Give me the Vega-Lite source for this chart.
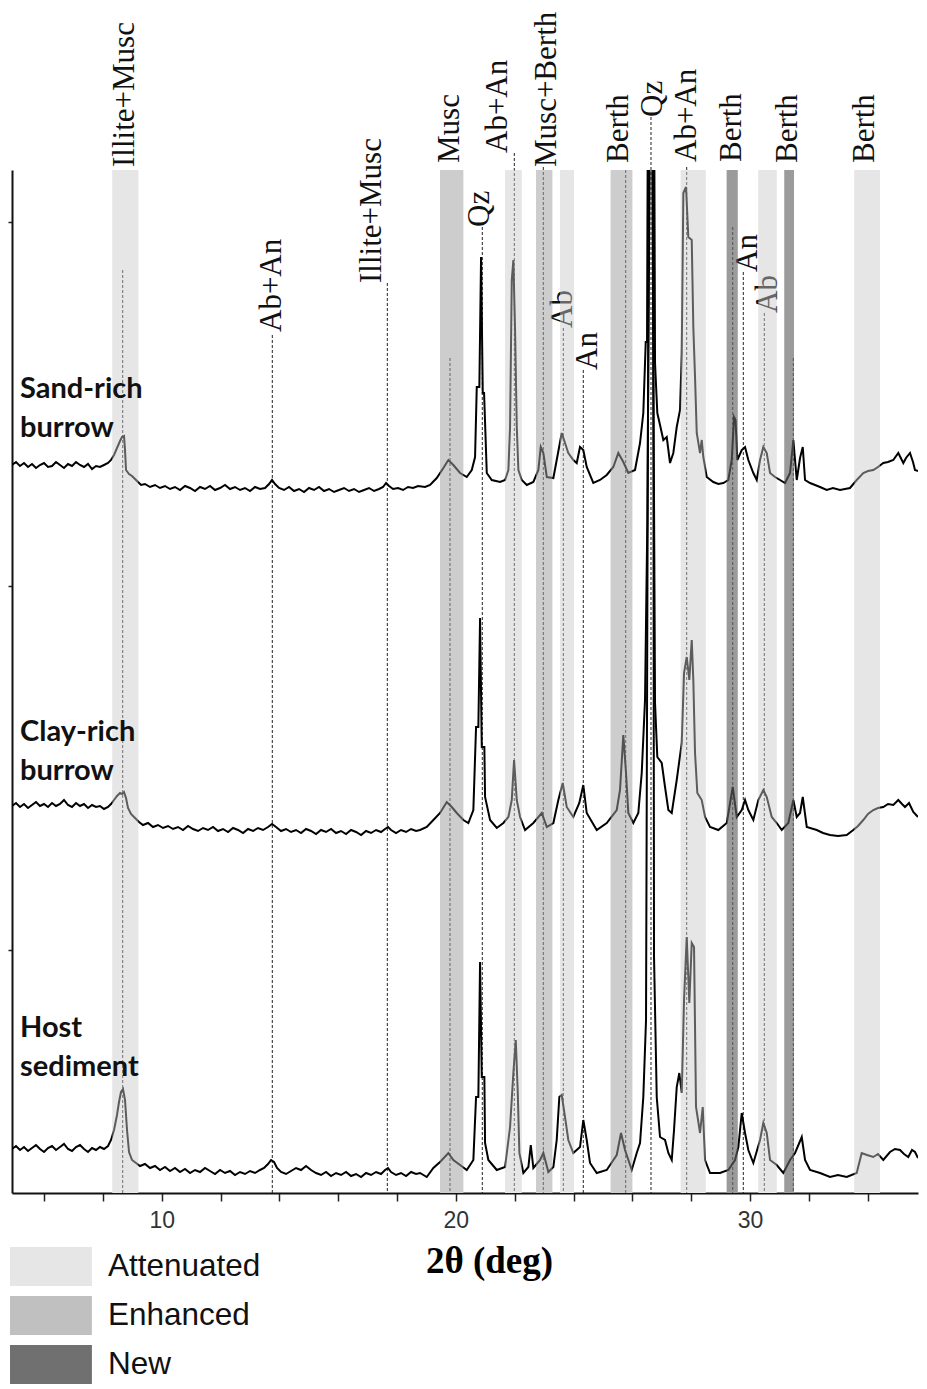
{
"$schema": "https://vega.github.io/schema/vega-lite/v6.json",
"width": 906, "height": 1023,
"autosize": {"type": "none"},
"padding": {"left": 12, "top": 170, "right": 9, "bottom": 196},
"background": "white",
"config": {"view": {"stroke": null}, "font": "Liberation Sans"},
"datasets": {
"bands": [
{"x":8.321,"x2":9.204,"type":"Attenuated"},
{"x":21.671,"x2":22.239,"type":"Attenuated"},
{"x":23.541,"x2":24.017,"type":"Attenuated"},
{"x":27.644,"x2":28.494,"type":"Attenuated"},
{"x":30.282,"x2":30.908,"type":"Attenuated"},
{"x":33.546,"x2":34.420,"type":"Attenuated"},
{"x":19.461,"x2":20.253,"type":"Enhanced"},
{"x":22.725,"x2":23.279,"type":"Enhanced"},
{"x":25.264,"x2":25.999,"type":"Enhanced"},
{"x":29.208,"x2":29.582,"type":"New"},
{"x":31.166,"x2":31.496,"type":"New"}
],
"leaders": [
{"x":8.674,"y":923},{"x":13.760,"y":858},{"x":17.670,"y":910},{"x":19.801,"y":835},
{"x":20.899,"y":966},{"x":21.987,"y":1040},{"x":22.973,"y":1026},{"x":23.653,"y":865},
{"x":24.333,"y":823},{"x":25.774,"y":1023},{"x":26.634,"y":1076},{"x":27.848,"y":1026},
{"x":29.412,"y":966},{"x":29.772,"y":921},{"x":30.486,"y":880},{"x":31.472,"y":835}
],
"labels": [
{"x":8.753,"y":1026,"t":"Illite+Musc"},
{"x":13.740,"y":861,"t":"Ab+An"},
{"x":17.139,"y":910,"t":"Illite+Musc"},
{"x":19.801,"y":1030,"t":"Musc"},
{"x":20.823,"y":966,"t":"Qz"},
{"x":21.443,"y":1040,"t":"Ab+An"},
{"x":23.091,"y":1026,"t":"Musc+Berth"},
{"x":23.626,"y":865,"t":"Ab"},
{"x":24.503,"y":823,"t":"An"},
{"x":25.557,"y":1030,"t":"Berth"},
{"x":26.712,"y":1076,"t":"Qz"},
{"x":27.848,"y":1031,"t":"Ab+An"},
{"x":29.379,"y":1031,"t":"Berth"},
{"x":29.943,"y":921,"t":"An"},
{"x":30.623,"y":880,"t":"Ab"},
{"x":31.303,"y":1030,"t":"Berth"},
{"x":33.910,"y":1030,"t":"Berth"}
],
"samples": [
{"x":5.183,"y":795,"t":"Sand-rich\nburrow"},
{"x":5.183,"y":452,"t":"Clay-rich\nburrow"},
{"x":5.183,"y":156,"t":"Host\nsediment"}
],
"traces": [
{"s":"sand","x":4.911,"y":728},{"s":"sand","x":5.047,"y":731},{"s":"sand","x":5.183,"y":727},{"s":"sand","x":5.319,"y":730},{"s":"sand","x":5.455,"y":726},{"s":"sand","x":5.591,"y":729},{"s":"sand","x":5.727,"y":725},{"s":"sand","x":5.863,"y":728},{"s":"sand","x":5.999,"y":730},{"s":"sand","x":6.135,"y":726},{"s":"sand","x":6.271,"y":727},{"s":"sand","x":6.407,"y":731},{"s":"sand","x":6.543,"y":728},{"s":"sand","x":6.679,"y":725},{"s":"sand","x":6.815,"y":729},{"s":"sand","x":6.951,"y":727},{"s":"sand","x":7.087,"y":731},{"s":"sand","x":7.223,"y":728},{"s":"sand","x":7.359,"y":726},{"s":"sand","x":7.495,"y":729},{"s":"sand","x":7.631,"y":724},{"s":"sand","x":7.767,"y":727},{"s":"sand","x":7.903,"y":726},{"s":"sand","x":8.039,"y":728},{"s":"sand","x":8.175,"y":730},{"s":"sand","x":8.277,"y":733},{"s":"sand","x":8.379,"y":738},{"s":"sand","x":8.481,"y":745},{"s":"sand","x":8.583,"y":752},{"s":"sand","x":8.651,"y":756},{"s":"sand","x":8.719,"y":757},{"s":"sand","x":8.753,"y":743},{"s":"sand","x":8.787,"y":723},{"s":"sand","x":8.889,"y":719},{"s":"sand","x":8.991,"y":717},{"s":"sand","x":9.093,"y":714},{"s":"sand","x":9.195,"y":711},{"s":"sand","x":9.297,"y":708},{"s":"sand","x":9.433,"y":709},{"s":"sand","x":9.603,"y":706},{"s":"sand","x":9.773,"y":708},{"s":"sand","x":9.943,"y":705},{"s":"sand","x":10.113,"y":707},{"s":"sand","x":10.283,"y":704},{"s":"sand","x":10.453,"y":706},{"s":"sand","x":10.623,"y":703},{"s":"sand","x":10.793,"y":707},{"s":"sand","x":10.963,"y":705},{"s":"sand","x":11.133,"y":702},{"s":"sand","x":11.303,"y":706},{"s":"sand","x":11.473,"y":704},{"s":"sand","x":11.643,"y":707},{"s":"sand","x":11.813,"y":703},{"s":"sand","x":11.983,"y":705},{"s":"sand","x":12.153,"y":708},{"s":"sand","x":12.323,"y":704},{"s":"sand","x":12.493,"y":706},{"s":"sand","x":12.663,"y":703},{"s":"sand","x":12.833,"y":705},{"s":"sand","x":13.003,"y":702},{"s":"sand","x":13.173,"y":706},{"s":"sand","x":13.343,"y":704},{"s":"sand","x":13.513,"y":705},{"s":"sand","x":13.649,"y":709},{"s":"sand","x":13.751,"y":713},{"s":"sand","x":13.853,"y":709},{"s":"sand","x":13.989,"y":705},{"s":"sand","x":14.159,"y":703},{"s":"sand","x":14.329,"y":706},{"s":"sand","x":14.499,"y":702},{"s":"sand","x":14.669,"y":704},{"s":"sand","x":14.839,"y":701},{"s":"sand","x":15.009,"y":705},{"s":"sand","x":15.179,"y":703},{"s":"sand","x":15.349,"y":706},{"s":"sand","x":15.519,"y":702},{"s":"sand","x":15.689,"y":704},{"s":"sand","x":15.859,"y":701},{"s":"sand","x":16.029,"y":703},{"s":"sand","x":16.199,"y":705},{"s":"sand","x":16.369,"y":702},{"s":"sand","x":16.539,"y":704},{"s":"sand","x":16.709,"y":701},{"s":"sand","x":16.879,"y":703},{"s":"sand","x":17.049,"y":705},{"s":"sand","x":17.219,"y":702},{"s":"sand","x":17.389,"y":704},{"s":"sand","x":17.525,"y":706},{"s":"sand","x":17.627,"y":710},{"s":"sand","x":17.729,"y":707},{"s":"sand","x":17.865,"y":704},{"s":"sand","x":18.035,"y":705},{"s":"sand","x":18.205,"y":703},{"s":"sand","x":18.375,"y":706},{"s":"sand","x":18.545,"y":705},{"s":"sand","x":18.715,"y":707},{"s":"sand","x":18.953,"y":706},{"s":"sand","x":19.123,"y":708},{"s":"sand","x":19.351,"y":715},{"s":"sand","x":19.575,"y":725},{"s":"sand","x":19.745,"y":733},{"s":"sand","x":19.915,"y":728},{"s":"sand","x":20.143,"y":720},{"s":"sand","x":20.371,"y":716},{"s":"sand","x":20.541,"y":723},{"s":"sand","x":20.653,"y":736},{"s":"sand","x":20.711,"y":806},{"s":"sand","x":20.799,"y":806},{"s":"sand","x":20.857,"y":936},{"s":"sand","x":20.915,"y":800},{"s":"sand","x":20.959,"y":800},{"s":"sand","x":21.051,"y":720},{"s":"sand","x":21.221,"y":713},{"s":"sand","x":21.503,"y":711},{"s":"sand","x":21.673,"y":713},{"s":"sand","x":21.786,"y":723},{"s":"sand","x":21.843,"y":766},{"s":"sand","x":21.901,"y":913},{"s":"sand","x":21.955,"y":933},{"s":"sand","x":22.013,"y":863},{"s":"sand","x":22.071,"y":766},{"s":"sand","x":22.126,"y":723},{"s":"sand","x":22.241,"y":713},{"s":"sand","x":22.411,"y":708},{"s":"sand","x":22.635,"y":711},{"s":"sand","x":22.805,"y":723},{"s":"sand","x":22.887,"y":746},{"s":"sand","x":22.975,"y":740},{"s":"sand","x":23.091,"y":716},{"s":"sand","x":23.315,"y":715},{"s":"sand","x":23.429,"y":733},{"s":"sand","x":23.599,"y":760},{"s":"sand","x":23.711,"y":750},{"s":"sand","x":23.823,"y":740},{"s":"sand","x":23.993,"y":733},{"s":"sand","x":24.109,"y":730},{"s":"sand","x":24.221,"y":746},{"s":"sand","x":24.333,"y":743},{"s":"sand","x":24.449,"y":726},{"s":"sand","x":24.673,"y":710},{"s":"sand","x":24.901,"y":713},{"s":"sand","x":25.129,"y":718},{"s":"sand","x":25.353,"y":726},{"s":"sand","x":25.523,"y":740},{"s":"sand","x":25.693,"y":731},{"s":"sand","x":25.863,"y":720},{"s":"sand","x":26.091,"y":723},{"s":"sand","x":26.261,"y":750},{"s":"sand","x":26.373,"y":780},{"s":"sand","x":26.455,"y":851},{"s":"sand","x":26.499,"y":851},{"s":"sand","x":26.533,"y":1133},{"s":"sand","x":26.737,"y":1133},{"s":"sand","x":26.771,"y":830},{"s":"sand","x":26.849,"y":780},{"s":"sand","x":26.941,"y":768},{"s":"sand","x":27.054,"y":753},{"s":"sand","x":27.169,"y":756},{"s":"sand","x":27.281,"y":730},{"s":"sand","x":27.393,"y":740},{"s":"sand","x":27.509,"y":766},{"s":"sand","x":27.621,"y":783},{"s":"sand","x":27.679,"y":840},{"s":"sand","x":27.734,"y":1000},{"s":"sand","x":27.825,"y":1006},{"s":"sand","x":27.903,"y":956},{"s":"sand","x":28.019,"y":953},{"s":"sand","x":28.073,"y":866},{"s":"sand","x":28.131,"y":816},{"s":"sand","x":28.189,"y":760},{"s":"sand","x":28.301,"y":740},{"s":"sand","x":28.359,"y":753},{"s":"sand","x":28.413,"y":736},{"s":"sand","x":28.529,"y":716},{"s":"sand","x":28.753,"y":711},{"s":"sand","x":28.923,"y":709},{"s":"sand","x":29.093,"y":710},{"s":"sand","x":29.263,"y":713},{"s":"sand","x":29.379,"y":733},{"s":"sand","x":29.457,"y":776},{"s":"sand","x":29.508,"y":773},{"s":"sand","x":29.569,"y":733},{"s":"sand","x":29.719,"y":743},{"s":"sand","x":29.831,"y":746},{"s":"sand","x":29.943,"y":733},{"s":"sand","x":30.113,"y":720},{"s":"sand","x":30.229,"y":713},{"s":"sand","x":30.341,"y":733},{"s":"sand","x":30.453,"y":746},{"s":"sand","x":30.569,"y":740},{"s":"sand","x":30.681,"y":720},{"s":"sand","x":30.851,"y":716},{"s":"sand","x":31.021,"y":713},{"s":"sand","x":31.191,"y":710},{"s":"sand","x":31.361,"y":720},{"s":"sand","x":31.473,"y":753},{"s":"sand","x":31.589,"y":713},{"s":"sand","x":31.701,"y":735},{"s":"sand","x":31.793,"y":746},{"s":"sand","x":31.871,"y":713},{"s":"sand","x":32.041,"y":710},{"s":"sand","x":32.211,"y":708},{"s":"sand","x":32.381,"y":706},{"s":"sand","x":32.607,"y":703},{"s":"sand","x":32.821,"y":705},{"s":"sand","x":33.059,"y":703},{"s":"sand","x":33.229,"y":704},{"s":"sand","x":33.399,"y":705},{"s":"sand","x":33.627,"y":713},{"s":"sand","x":33.851,"y":720},{"s":"sand","x":34.011,"y":722},{"s":"sand","x":34.191,"y":723},{"s":"sand","x":34.351,"y":726},{"s":"sand","x":34.531,"y":730},{"s":"sand","x":34.691,"y":731},{"s":"sand","x":34.871,"y":733},{"s":"sand","x":35.041,"y":740},{"s":"sand","x":35.213,"y":730},{"s":"sand","x":35.303,"y":735},{"s":"sand","x":35.439,"y":740},{"s":"sand","x":35.541,"y":731},{"s":"sand","x":35.609,"y":723},{"s":"sand","x":35.711,"y":722},
{"s":"clay","x":4.911,"y":387},{"s":"clay","x":5.047,"y":390},{"s":"clay","x":5.183,"y":386},{"s":"clay","x":5.319,"y":389},{"s":"clay","x":5.455,"y":385},{"s":"clay","x":5.591,"y":388},{"s":"clay","x":5.727,"y":391},{"s":"clay","x":5.863,"y":387},{"s":"clay","x":5.999,"y":389},{"s":"clay","x":6.135,"y":386},{"s":"clay","x":6.271,"y":390},{"s":"clay","x":6.407,"y":387},{"s":"clay","x":6.543,"y":389},{"s":"clay","x":6.679,"y":393},{"s":"clay","x":6.815,"y":388},{"s":"clay","x":6.951,"y":386},{"s":"clay","x":7.087,"y":390},{"s":"clay","x":7.223,"y":387},{"s":"clay","x":7.359,"y":389},{"s":"clay","x":7.495,"y":385},{"s":"clay","x":7.631,"y":388},{"s":"clay","x":7.767,"y":386},{"s":"clay","x":7.903,"y":387},{"s":"clay","x":8.039,"y":384},{"s":"clay","x":8.175,"y":386},{"s":"clay","x":8.277,"y":389},{"s":"clay","x":8.379,"y":393},{"s":"clay","x":8.481,"y":397},{"s":"clay","x":8.583,"y":400},{"s":"clay","x":8.651,"y":399},{"s":"clay","x":8.719,"y":401},{"s":"clay","x":8.787,"y":395},{"s":"clay","x":8.855,"y":385},{"s":"clay","x":8.957,"y":379},{"s":"clay","x":9.093,"y":375},{"s":"clay","x":9.229,"y":371},{"s":"clay","x":9.365,"y":368},{"s":"clay","x":9.535,"y":370},{"s":"clay","x":9.705,"y":366},{"s":"clay","x":9.875,"y":368},{"s":"clay","x":10.045,"y":365},{"s":"clay","x":10.215,"y":367},{"s":"clay","x":10.385,"y":364},{"s":"clay","x":10.555,"y":366},{"s":"clay","x":10.725,"y":363},{"s":"clay","x":10.895,"y":367},{"s":"clay","x":11.065,"y":364},{"s":"clay","x":11.235,"y":362},{"s":"clay","x":11.405,"y":365},{"s":"clay","x":11.575,"y":363},{"s":"clay","x":11.745,"y":366},{"s":"clay","x":11.915,"y":362},{"s":"clay","x":12.085,"y":364},{"s":"clay","x":12.255,"y":361},{"s":"clay","x":12.425,"y":365},{"s":"clay","x":12.595,"y":363},{"s":"clay","x":12.765,"y":360},{"s":"clay","x":12.935,"y":364},{"s":"clay","x":13.105,"y":362},{"s":"clay","x":13.275,"y":365},{"s":"clay","x":13.445,"y":363},{"s":"clay","x":13.615,"y":366},{"s":"clay","x":13.751,"y":369},{"s":"clay","x":13.887,"y":366},{"s":"clay","x":14.057,"y":362},{"s":"clay","x":14.227,"y":364},{"s":"clay","x":14.397,"y":361},{"s":"clay","x":14.567,"y":363},{"s":"clay","x":14.737,"y":360},{"s":"clay","x":14.907,"y":364},{"s":"clay","x":15.077,"y":362},{"s":"clay","x":15.247,"y":359},{"s":"clay","x":15.417,"y":363},{"s":"clay","x":15.587,"y":361},{"s":"clay","x":15.757,"y":364},{"s":"clay","x":15.927,"y":360},{"s":"clay","x":16.097,"y":362},{"s":"clay","x":16.267,"y":359},{"s":"clay","x":16.437,"y":363},{"s":"clay","x":16.607,"y":361},{"s":"clay","x":16.777,"y":358},{"s":"clay","x":16.947,"y":362},{"s":"clay","x":17.117,"y":360},{"s":"clay","x":17.287,"y":363},{"s":"clay","x":17.457,"y":361},{"s":"clay","x":17.593,"y":364},{"s":"clay","x":17.695,"y":366},{"s":"clay","x":17.797,"y":363},{"s":"clay","x":17.967,"y":360},{"s":"clay","x":18.137,"y":363},{"s":"clay","x":18.307,"y":361},{"s":"clay","x":18.477,"y":364},{"s":"clay","x":18.647,"y":362},{"s":"clay","x":18.783,"y":363},{"s":"clay","x":19.011,"y":366},{"s":"clay","x":19.235,"y":373},{"s":"clay","x":19.463,"y":380},{"s":"clay","x":19.691,"y":391},{"s":"clay","x":19.861,"y":386},{"s":"clay","x":20.031,"y":380},{"s":"clay","x":20.255,"y":373},{"s":"clay","x":20.425,"y":370},{"s":"clay","x":20.595,"y":383},{"s":"clay","x":20.687,"y":466},{"s":"clay","x":20.765,"y":466},{"s":"clay","x":20.823,"y":575},{"s":"clay","x":20.881,"y":446},{"s":"clay","x":20.969,"y":446},{"s":"clay","x":20.993,"y":396},{"s":"clay","x":21.163,"y":373},{"s":"clay","x":21.391,"y":365},{"s":"clay","x":21.615,"y":370},{"s":"clay","x":21.786,"y":376},{"s":"clay","x":21.901,"y":393},{"s":"clay","x":21.979,"y":433},{"s":"clay","x":22.071,"y":393},{"s":"clay","x":22.183,"y":376},{"s":"clay","x":22.353,"y":363},{"s":"clay","x":22.635,"y":370},{"s":"clay","x":22.921,"y":380},{"s":"clay","x":23.091,"y":366},{"s":"clay","x":23.315,"y":370},{"s":"clay","x":23.484,"y":393},{"s":"clay","x":23.633,"y":410},{"s":"clay","x":23.769,"y":386},{"s":"clay","x":23.993,"y":376},{"s":"clay","x":24.197,"y":390},{"s":"clay","x":24.333,"y":408},{"s":"clay","x":24.449,"y":380},{"s":"clay","x":24.789,"y":363},{"s":"clay","x":25.129,"y":370},{"s":"clay","x":25.469,"y":383},{"s":"clay","x":25.581,"y":403},{"s":"clay","x":25.693,"y":458},{"s":"clay","x":25.785,"y":420},{"s":"clay","x":25.863,"y":380},{"s":"clay","x":26.033,"y":370},{"s":"clay","x":26.203,"y":380},{"s":"clay","x":26.319,"y":420},{"s":"clay","x":26.431,"y":493},{"s":"clay","x":26.509,"y":670},{"s":"clay","x":26.601,"y":1093},{"s":"clay","x":26.669,"y":1093},{"s":"clay","x":26.771,"y":490},{"s":"clay","x":26.849,"y":436},{"s":"clay","x":26.999,"y":430},{"s":"clay","x":27.111,"y":406},{"s":"clay","x":27.224,"y":383},{"s":"clay","x":27.339,"y":380},{"s":"clay","x":27.509,"y":413},{"s":"clay","x":27.679,"y":450},{"s":"clay","x":27.757,"y":520},{"s":"clay","x":27.849,"y":536},{"s":"clay","x":27.937,"y":513},{"s":"clay","x":28.019,"y":553},{"s":"clay","x":28.073,"y":513},{"s":"clay","x":28.131,"y":440},{"s":"clay","x":28.209,"y":400},{"s":"clay","x":28.359,"y":393},{"s":"clay","x":28.471,"y":376},{"s":"clay","x":28.641,"y":366},{"s":"clay","x":28.923,"y":363},{"s":"clay","x":29.209,"y":370},{"s":"clay","x":29.413,"y":406},{"s":"clay","x":29.549,"y":376},{"s":"clay","x":29.719,"y":383},{"s":"clay","x":29.831,"y":393},{"s":"clay","x":29.943,"y":383},{"s":"clay","x":30.113,"y":373},{"s":"clay","x":30.283,"y":393},{"s":"clay","x":30.453,"y":403},{"s":"clay","x":30.569,"y":396},{"s":"clay","x":30.739,"y":376},{"s":"clay","x":30.909,"y":370},{"s":"clay","x":31.079,"y":363},{"s":"clay","x":31.303,"y":370},{"s":"clay","x":31.473,"y":393},{"s":"clay","x":31.589,"y":376},{"s":"clay","x":31.701,"y":380},{"s":"clay","x":31.793,"y":396},{"s":"clay","x":31.929,"y":366},{"s":"clay","x":32.269,"y":363},{"s":"clay","x":32.483,"y":360},{"s":"clay","x":32.719,"y":358},{"s":"clay","x":32.991,"y":357},{"s":"clay","x":33.287,"y":358},{"s":"clay","x":33.511,"y":363},{"s":"clay","x":33.671,"y":367},{"s":"clay","x":33.851,"y":373},{"s":"clay","x":34.011,"y":379},{"s":"clay","x":34.191,"y":383},{"s":"clay","x":34.351,"y":385},{"s":"clay","x":34.531,"y":386},{"s":"clay","x":34.691,"y":389},{"s":"clay","x":34.871,"y":388},{"s":"clay","x":35.041,"y":393},{"s":"clay","x":35.167,"y":389},{"s":"clay","x":35.269,"y":386},{"s":"clay","x":35.405,"y":390},{"s":"clay","x":35.551,"y":381},{"s":"clay","x":35.711,"y":376},
{"s":"host","x":4.911,"y":44},{"s":"host","x":5.047,"y":47},{"s":"host","x":5.183,"y":43},{"s":"host","x":5.319,"y":46},{"s":"host","x":5.455,"y":42},{"s":"host","x":5.591,"y":45},{"s":"host","x":5.727,"y":48},{"s":"host","x":5.863,"y":44},{"s":"host","x":5.999,"y":41},{"s":"host","x":6.135,"y":45},{"s":"host","x":6.271,"y":47},{"s":"host","x":6.407,"y":43},{"s":"host","x":6.543,"y":46},{"s":"host","x":6.679,"y":49},{"s":"host","x":6.815,"y":44},{"s":"host","x":6.951,"y":42},{"s":"host","x":7.087,"y":46},{"s":"host","x":7.223,"y":48},{"s":"host","x":7.359,"y":44},{"s":"host","x":7.495,"y":41},{"s":"host","x":7.631,"y":45},{"s":"host","x":7.767,"y":43},{"s":"host","x":7.903,"y":46},{"s":"host","x":8.039,"y":44},{"s":"host","x":8.175,"y":47},{"s":"host","x":8.277,"y":53},{"s":"host","x":8.379,"y":63},{"s":"host","x":8.481,"y":78},{"s":"host","x":8.549,"y":91},{"s":"host","x":8.617,"y":101},{"s":"host","x":8.685,"y":104},{"s":"host","x":8.753,"y":93},{"s":"host","x":8.821,"y":63},{"s":"host","x":8.889,"y":41},{"s":"host","x":8.991,"y":33},{"s":"host","x":9.127,"y":30},{"s":"host","x":9.263,"y":27},{"s":"host","x":9.433,"y":29},{"s":"host","x":9.603,"y":25},{"s":"host","x":9.773,"y":27},{"s":"host","x":9.943,"y":23},{"s":"host","x":10.113,"y":26},{"s":"host","x":10.283,"y":22},{"s":"host","x":10.453,"y":25},{"s":"host","x":10.623,"y":21},{"s":"host","x":10.793,"y":24},{"s":"host","x":10.963,"y":20},{"s":"host","x":11.133,"y":23},{"s":"host","x":11.303,"y":21},{"s":"host","x":11.473,"y":25},{"s":"host","x":11.643,"y":22},{"s":"host","x":11.813,"y":19},{"s":"host","x":11.983,"y":23},{"s":"host","x":12.153,"y":20},{"s":"host","x":12.323,"y":22},{"s":"host","x":12.493,"y":18},{"s":"host","x":12.663,"y":21},{"s":"host","x":12.833,"y":19},{"s":"host","x":13.003,"y":22},{"s":"host","x":13.173,"y":20},{"s":"host","x":13.343,"y":23},{"s":"host","x":13.479,"y":25},{"s":"host","x":13.615,"y":29},{"s":"host","x":13.717,"y":33},{"s":"host","x":13.819,"y":31},{"s":"host","x":13.921,"y":25},{"s":"host","x":14.057,"y":21},{"s":"host","x":14.227,"y":19},{"s":"host","x":14.397,"y":22},{"s":"host","x":14.567,"y":25},{"s":"host","x":14.737,"y":23},{"s":"host","x":14.907,"y":27},{"s":"host","x":15.077,"y":23},{"s":"host","x":15.247,"y":20},{"s":"host","x":15.417,"y":18},{"s":"host","x":15.587,"y":21},{"s":"host","x":15.757,"y":17},{"s":"host","x":15.927,"y":20},{"s":"host","x":16.097,"y":18},{"s":"host","x":16.267,"y":21},{"s":"host","x":16.437,"y":17},{"s":"host","x":16.607,"y":19},{"s":"host","x":16.777,"y":16},{"s":"host","x":16.947,"y":20},{"s":"host","x":17.117,"y":18},{"s":"host","x":17.287,"y":21},{"s":"host","x":17.457,"y":19},{"s":"host","x":17.593,"y":23},{"s":"host","x":17.695,"y":25},{"s":"host","x":17.797,"y":21},{"s":"host","x":17.967,"y":18},{"s":"host","x":18.137,"y":20},{"s":"host","x":18.307,"y":17},{"s":"host","x":18.477,"y":21},{"s":"host","x":18.647,"y":19},{"s":"host","x":18.783,"y":20},{"s":"host","x":19.011,"y":16},{"s":"host","x":19.235,"y":25},{"s":"host","x":19.463,"y":31},{"s":"host","x":19.745,"y":40},{"s":"host","x":19.915,"y":33},{"s":"host","x":20.143,"y":28},{"s":"host","x":20.371,"y":23},{"s":"host","x":20.595,"y":33},{"s":"host","x":20.687,"y":96},{"s":"host","x":20.765,"y":96},{"s":"host","x":20.823,"y":231},{"s":"host","x":20.881,"y":116},{"s":"host","x":20.969,"y":116},{"s":"host","x":20.993,"y":50},{"s":"host","x":21.105,"y":33},{"s":"host","x":21.391,"y":23},{"s":"host","x":21.673,"y":26},{"s":"host","x":21.843,"y":66},{"s":"host","x":21.955,"y":120},{"s":"host","x":22.037,"y":153},{"s":"host","x":22.105,"y":100},{"s":"host","x":22.160,"y":40},{"s":"host","x":22.295,"y":20},{"s":"host","x":22.465,"y":26},{"s":"host","x":22.547,"y":48},{"s":"host","x":22.635,"y":25},{"s":"host","x":22.863,"y":33},{"s":"host","x":22.975,"y":40},{"s":"host","x":23.145,"y":21},{"s":"host","x":23.315,"y":26},{"s":"host","x":23.429,"y":53},{"s":"host","x":23.518,"y":96},{"s":"host","x":23.599,"y":98},{"s":"host","x":23.711,"y":76},{"s":"host","x":23.823,"y":53},{"s":"host","x":23.993,"y":40},{"s":"host","x":24.221,"y":46},{"s":"host","x":24.333,"y":73},{"s":"host","x":24.449,"y":53},{"s":"host","x":24.561,"y":30},{"s":"host","x":24.789,"y":20},{"s":"host","x":25.129,"y":23},{"s":"host","x":25.469,"y":38},{"s":"host","x":25.615,"y":60},{"s":"host","x":25.751,"y":43},{"s":"host","x":25.979,"y":23},{"s":"host","x":26.149,"y":40},{"s":"host","x":26.261,"y":50},{"s":"host","x":26.373,"y":96},{"s":"host","x":26.465,"y":173},{"s":"host","x":26.567,"y":1093},{"s":"host","x":26.703,"y":1093},{"s":"host","x":26.737,"y":236},{"s":"host","x":26.829,"y":96},{"s":"host","x":26.941,"y":56},{"s":"host","x":27.111,"y":53},{"s":"host","x":27.224,"y":40},{"s":"host","x":27.339,"y":33},{"s":"host","x":27.417,"y":63},{"s":"host","x":27.509,"y":106},{"s":"host","x":27.597,"y":120},{"s":"host","x":27.679,"y":100},{"s":"host","x":27.757,"y":193},{"s":"host","x":27.849,"y":256},{"s":"host","x":27.937,"y":190},{"s":"host","x":28.019,"y":250},{"s":"host","x":28.097,"y":246},{"s":"host","x":28.165,"y":86},{"s":"host","x":28.301,"y":60},{"s":"host","x":28.393,"y":86},{"s":"host","x":28.471,"y":33},{"s":"host","x":28.641,"y":20},{"s":"host","x":28.981,"y":20},{"s":"host","x":29.263,"y":23},{"s":"host","x":29.491,"y":33},{"s":"host","x":29.603,"y":46},{"s":"host","x":29.719,"y":80},{"s":"host","x":29.831,"y":60},{"s":"host","x":29.943,"y":43},{"s":"host","x":30.113,"y":30},{"s":"host","x":30.341,"y":53},{"s":"host","x":30.453,"y":70},{"s":"host","x":30.569,"y":60},{"s":"host","x":30.681,"y":33},{"s":"host","x":30.909,"y":28},{"s":"host","x":31.133,"y":20},{"s":"host","x":31.361,"y":33},{"s":"host","x":31.531,"y":40},{"s":"host","x":31.759,"y":56},{"s":"host","x":31.871,"y":33},{"s":"host","x":32.041,"y":23},{"s":"host","x":32.381,"y":20},{"s":"host","x":32.719,"y":16},{"s":"host","x":32.991,"y":18},{"s":"host","x":33.287,"y":16},{"s":"host","x":33.627,"y":20},{"s":"host","x":33.797,"y":40},{"s":"host","x":33.977,"y":38},{"s":"host","x":34.191,"y":36},{"s":"host","x":34.351,"y":39},{"s":"host","x":34.531,"y":33},{"s":"host","x":34.759,"y":41},{"s":"host","x":34.929,"y":44},{"s":"host","x":35.099,"y":43},{"s":"host","x":35.235,"y":39},{"s":"host","x":35.381,"y":36},{"s":"host","x":35.507,"y":43},{"s":"host","x":35.609,"y":41},{"s":"host","x":35.711,"y":35}
]
},
"encoding": {
"x": {"field": "x", "type": "quantitative",
 "scale": {"domain": [4.911, 35.711], "nice": false, "zero": false},
 "axis": {"values": [6,8,10,12,14,16,18,20,22,24,26,28,30,32,34],
  "labelExpr": "datum.value % 10 === 0 ? datum.label : ''",
  "grid": false, "domainColor": "#111", "domainWidth": 2,
  "tickColor": "#222", "tickWidth": 1.5, "tickSize": 8,
  "labelFont": "Liberation Sans", "labelFontSize": 23, "labelColor": "#333", "labelPadding": 8,
  "labelFlush": false, "labelOverlap": false,
  "title": "2θ (deg)", "titleFont": "Liberation Serif", "titleFontSize": 37, "titleFontWeight": "bold",
  "titleColor": "#000", "titleX": 477, "titleY": 79, "titleBaseline": "alphabetic", "titleAlign": "center"}}
},
"layer": [
{"data": {"name": "bands"}, "mark": {"type": "rect"},
 "encoding": {"x2": {"field": "x2"},
  "fill": {"field": "type", "type": "nominal",
   "scale": {"range": ["#e6e6e6","#cecece","#9c9c9c"]},
   "legend": null}}},
{"data": {"name": "bands"}, "mark": {"type": "rect", "strokeWidth": 0},
 "encoding": {"x2": {"field": "x"},
  "color": {"field": "type", "type": "nominal",
   "scale": {"domain": ["Attenuated","Enhanced","New"], "range": ["#e6e6e6","#c0c0c0","#707070"]},
   "legend": {"orient": "none", "legendX": 19.45, "legendY": 1077, "title": null, "padding": 0,
    "symbolType": "M-2.1,-1H2.1V1H-2.1Z", "symbolSize": 1521, "symbolStrokeWidth": 0, "symbolOpacity": 1,
    "labelFont": "Liberation Sans", "labelFontSize": 31.5, "labelColor": "#111", "labelOffset": 37.5, "labelLimit": 0,
    "rowPadding": 10}}}},
{"data": {"name": "leaders"}, "mark": {"type": "rule", "strokeDash": [3, 2], "strokeWidth": 1, "color": "#222"},
 "encoding": {"y": {"field": "y", "type": "quantitative", "scale": {"domain": [0, 1023], "nice": false, "zero": false},
   "axis": {"values": [243, 607, 971], "labels": false, "title": null, "grid": false, "domainColor": "#111", "domainWidth": 2, "tickColor": "#222", "tickSize": 4, "tickWidth": 1.5}},
  "y2": {"datum": 0}}},
{"data": {"name": "traces"}, "mark": {"type": "line", "color": "#000", "strokeWidth": 2, "clip": true},
 "encoding": {"y": {"field": "y", "type": "quantitative", "scale": {"domain": [0, 1023], "nice": false, "zero": false},
   "axis": {"values": [243, 607, 971], "labels": false, "title": null, "grid": false, "domainColor": "#111", "domainWidth": 2, "tickColor": "#222", "tickSize": 4, "tickWidth": 1.5}},
  "detail": {"field": "s"}}},
{"data": {"name": "labels"}, "mark": {"type": "text", "angle": 270, "align": "left", "baseline": "middle", "font": "Liberation Serif", "fontSize": 31, "color": "#111"},
 "encoding": {"y": {"field": "y", "type": "quantitative", "scale": {"domain": [0, 1023], "nice": false, "zero": false},
   "axis": {"values": [243, 607, 971], "labels": false, "title": null, "grid": false, "domainColor": "#111", "domainWidth": 2, "tickColor": "#222", "tickSize": 4, "tickWidth": 1.5}},
  "text": {"field": "t"}}},
{"data": {"name": "bands"}, "mark": {"type": "rect", "opacity": 0.4},
 "encoding": {"x2": {"field": "x2"},
  "fill": {"field": "type", "type": "nominal",
   "scale": {"range": ["#e6e6e6","#cecece","#9c9c9c"]},
   "legend": null}}},
{"data": {"name": "samples"}, "mark": {"type": "text", "align": "left", "baseline": "alphabetic", "font": "Lato", "fontWeight": "bold", "fontSize": 29, "lineHeight": 39, "lineBreak": "\n", "color": "#111"},
 "encoding": {"y": {"field": "y", "type": "quantitative", "scale": {"domain": [0, 1023], "nice": false, "zero": false},
   "axis": {"values": [243, 607, 971], "labels": false, "title": null, "grid": false, "domainColor": "#111", "domainWidth": 2, "tickColor": "#222", "tickSize": 4, "tickWidth": 1.5}},
  "text": {"field": "t"}}}
]
}
